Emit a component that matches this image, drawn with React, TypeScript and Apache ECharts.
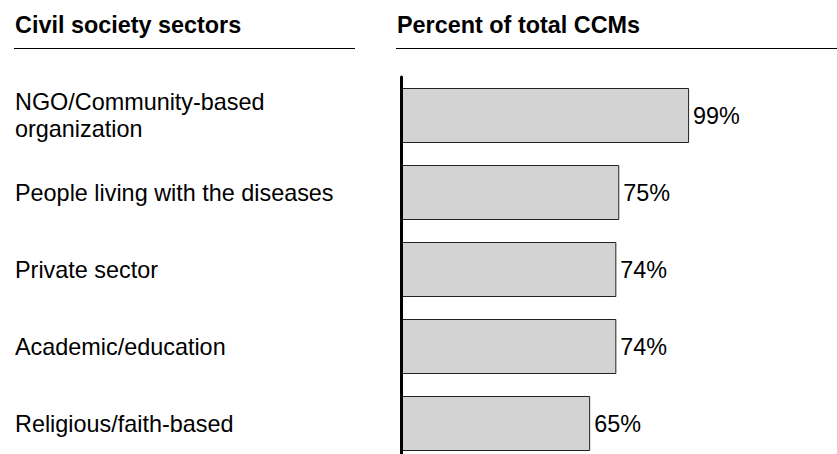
import React, { useEffect, useRef } from "react";
import * as echarts from "echarts";

const categories = [
  "NGO/Community-based\norganization",
  "People living with the diseases",
  "Private sector",
  "Academic/education",
  "Religious/faith-based",
];
const values = [99, 75, 74, 74, 65];
const headers = ["Civil society sectors", "Percent of total CCMs"];

export default function App() {
  const ref = useRef<HTMLDivElement>(null);
  useEffect(() => {
    const chart = echarts.init(ref.current!, null, { renderer: "svg" });
    const font = "'Liberation Sans', Arial, sans-serif";
    const fs = 23.4;
    chart.setOption({
      animation: false,
      grid: { left: 401, top: 77, width: 291, height: 385, containLabel: false },
      xAxis: {
        type: "value",
        min: 0,
        max: 100,
        show: false,
      },
      yAxis: {
        type: "category",
        data: categories,
        inverse: true,
        z: 10,
        axisLine: { show: true, lineStyle: { color: "#000", width: 3 } },
        axisTick: { show: false },
        axisLabel: {
          align: "left",
          margin: 386,
          color: "#000",
          fontSize: fs,
          fontFamily: font,
          lineHeight: 27,
        },
      },
      graphic: [
        {
          type: "text",
          x: 15,
          y: 25,
          style: { text: headers[0], fontSize: fs, fontWeight: "bold", fontFamily: font, fill: "#000", verticalAlign: "middle" },
        },
        {
          type: "text",
          x: 397,
          y: 25,
          style: { text: headers[1], fontSize: fs, fontWeight: "bold", fontFamily: font, fill: "#000", verticalAlign: "middle" },
        },
        { type: "line", shape: { x1: 14, y1: 48.5, x2: 355, y2: 48.5 }, style: { stroke: "#000", lineWidth: 1 } },
        { type: "line", shape: { x1: 396, y1: 48.5, x2: 837, y2: 48.5 }, style: { stroke: "#000", lineWidth: 1 } },
      ],
      series: [
        {
          type: "bar",
          data: values,
          barWidth: 55,
          itemStyle: { color: "#d3d3d3", borderColor: "#222", borderWidth: 1 },
          label: {
            show: true,
            position: "right",
            distance: 4,
            formatter: "{c}%",
            color: "#000",
            fontSize: fs,
            fontFamily: font,
          },
          z: 1,
        },
      ],
    });
    return () => chart.dispose();
  }, []);
  return (
    <div style={{ position: "absolute", left: 0, top: 0, width: 837, height: 454, overflow: "hidden" }}>
      <div ref={ref} style={{ width: 837, height: 470 }} />
    </div>
  );
}
